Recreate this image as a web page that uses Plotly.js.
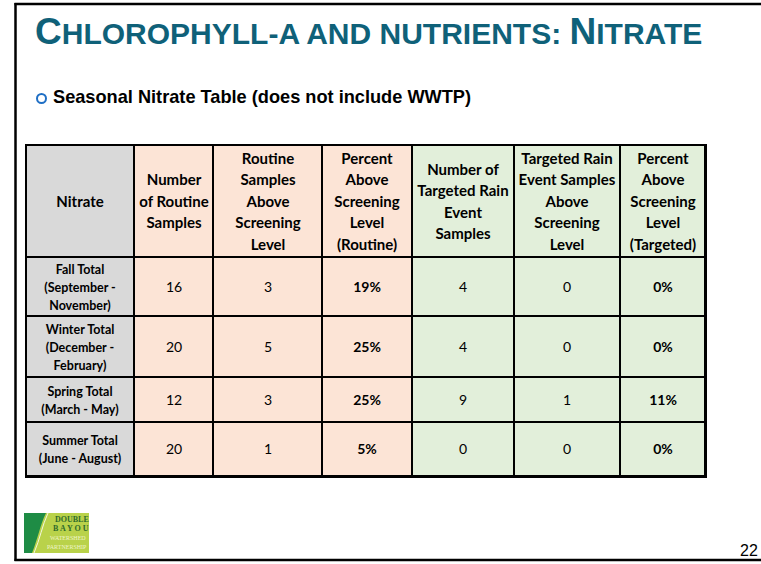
<!DOCTYPE html>
<html><head><meta charset="utf-8">
<script src="https://cdn.plot.ly/plotly-3.0.1.min.js"></script>
<style>html,body{margin:0;padding:0;background:#fff;}#chart{width:761px;height:564px;}</style>
</head><body><div id="chart"></div>
<script>
// ---- data ----
const headerLabels = [
  "Nitrate",
  "Number<br>of Routine<br>Samples",
  "Routine<br>Samples<br>Above<br>Screening<br>Level",
  "Percent<br>Above<br>Screening<br>Level<br>(Routine)",
  "Number of<br>Targeted Rain<br>Event<br>Samples",
  "Targeted Rain<br>Event Samples<br>Above<br>Screening<br>Level",
  "Percent<br>Above<br>Screening<br>Level<br>(Targeted)"
];
const seasons = [
  "Fall Total<br>(September -<br>November)",
  "Winter Total<br>(December -<br>February)",
  "Spring Total<br>(March - May)",
  "Summer Total<br>(June - August)"
];
const routineSamples  = [16, 20, 12, 20];
const routineAbove    = [3, 5, 3, 1];
const routinePercent  = [19, 25, 25, 5];
const targetedSamples = [4, 4, 9, 0];
const targetedAbove   = [0, 0, 1, 0];
const targetedPercent = [0, 0, 11, 0];
const columnGroup = [0, 1, 1, 1, 2, 2, 2];   // 0 = label, 1 = routine, 2 = targeted rain event

// ---- layout constants (sizes, not data) ----
const W = 761, H = 564;
const px = x => x / W, py = y => 1 - y / H;
const colWidths = [108, 79, 109, 90, 102, 106, 85];
const headerHeight = 112;
const rowHeights = [59, 61, 45, 54];
const cum = (start, arr) => arr.reduce((a, v) => (a.push(a[a.length - 1] + v), a), [start]);
const xEdges = cum(0, colWidths);
const yEdgesBody = cum(headerHeight, rowHeights);
const tableW = xEdges[xEdges.length - 1];
const tableH = yEdgesBody[yEdgesBody.length - 1];

// ---- text building ----
const styled = (s, size, bold) => s.split("<br>").map(l => {
  const t = "<span style='font-size:" + size + "px'>" + l + "</span>";
  return bold ? "<b>" + t + "</b>" : t;
}).join("<br>");

const headerText = [headerLabels.map(s => styled(s, 15, true))];
const bodyColumns = [
  seasons.map(s => styled(s, 12.5, true)),
  routineSamples.map(v => styled(String(v), 14, false)),
  routineAbove.map(v => styled(String(v), 14, false)),
  routinePercent.map(v => styled(v + "%", 14, true)),
  targetedSamples.map(v => styled(String(v), 14, false)),
  targetedAbove.map(v => styled(String(v), 14, false)),
  targetedPercent.map(v => styled(v + "%", 14, true))
];
const bodyText = seasons.map((_, r) => bodyColumns.map(col => col[r]));
const headerZ = [columnGroup.slice()];
const bodyZ = seasons.map(() => columnGroup.slice());

const gray = "#D9D9D9", peach = "#FCE4D6", green = "#E2EFDA";
const groupScale = [[0, gray], [0.5, peach], [1, green]];

const common = {
  type: "heatmap", x: xEdges, zmin: 0, zmax: 2, colorscale: groupScale,
  showscale: false, xgap: 2, ygap: 2, hoverinfo: "skip",
  texttemplate: "%{text}"
};
const headerTrace = Object.assign({}, common, {
  y: [0, headerHeight], z: headerZ, text: headerText,
  textfont: {family: "Lato, sans-serif", size: 16.5, color: "#000"}
});
const bodyTrace = Object.assign({}, common, {
  y: yEdgesBody, z: bodyZ, text: bodyText,
  textfont: {family: "Lato, sans-serif", size: 14.2, color: "#000"}
});

const shapes = [
  // slide frame
  {type: "line", xref: "paper", yref: "paper", x0: px(14.5), x1: 1, y0: py(4), y1: py(4), line: {color: "#000", width: 2.5}},
  {type: "line", xref: "paper", yref: "paper", x0: px(15.5), x1: px(15.5), y0: py(3), y1: py(561), line: {color: "#000", width: 2.5}},
  {type: "line", xref: "paper", yref: "paper", x0: px(14.5), x1: 1, y0: py(560), y1: py(560), line: {color: "#000", width: 2.5}},
  // bullet
  {type: "circle", xref: "paper", yref: "paper", x0: px(37), x1: px(46), y0: py(103), y1: py(94), line: {color: "#1F6FC5", width: 2}},
  // logo
  {type: "rect", xref: "paper", yref: "paper", x0: px(24), x1: px(89), y0: py(553), y1: py(513), fillcolor: "#B9D24A", line: {width: 0}},
  {type: "path", xref: "paper", yref: "paper",
   path: `M ${px(24)},${py(513)} L ${px(46)},${py(513)} C ${px(40)},${py(525)} ${px(38)},${py(538)} ${px(32)},${py(553)} L ${px(24)},${py(553)} Z`,
   fillcolor: "#1E8C45", line: {width: 0}},
  {type: "path", xref: "paper", yref: "paper",
   path: `M ${px(48)},${py(513)} C ${px(42)},${py(526)} ${px(40)},${py(539)} ${px(34)},${py(553)}`,
   line: {color: "#F4F8E0", width: 1}}
];

const annotations = [
  {xref: "paper", yref: "paper", x: px(33), y: py(54), xanchor: "left", yanchor: "bottom", showarrow: false,
   text: "<b>C<span style='font-size:30px'>HLOROPHYLL-A AND NUTRIENTS: </span>N<span style='font-size:30px'>ITRATE</span></b>",
   font: {family: "Liberation Sans, Arial, sans-serif", size: 37, color: "#0F6179"}},
  {xref: "paper", yref: "paper", x: px(51), y: py(109), xanchor: "left", yanchor: "bottom", showarrow: false,
   text: "<b>Seasonal Nitrate Table (does not include WWTP)</b>",
   font: {family: "Liberation Sans, Arial, sans-serif", size: 18.2, color: "#000"}},
  {xref: "paper", yref: "paper", x: px(760), y: py(561), xanchor: "right", yanchor: "bottom", showarrow: false,
   text: "22", font: {family: "Liberation Sans, Arial, sans-serif", size: 16, color: "#000"}},
  // logo text
  {xref: "paper", yref: "paper", x: px(72), y: py(519), xanchor: "center", yanchor: "middle", showarrow: false,
   text: "<b>DOUBLE</b>", font: {family: "Liberation Serif, serif", size: 8, color: "#2E6B2C"}},
  {xref: "paper", yref: "paper", x: px(71), y: py(528), xanchor: "center", yanchor: "middle", showarrow: false,
   text: "<b>B A Y O U</b>", font: {family: "Liberation Serif, serif", size: 8, color: "#2E6B2C"}},
  {xref: "paper", yref: "paper", x: px(68), y: py(538), xanchor: "center", yanchor: "middle", showarrow: false,
   text: "WATERSHED", font: {family: "Liberation Serif, serif", size: 6, color: "#EEF4C8"}},
  {xref: "paper", yref: "paper", x: px(67), y: py(547), xanchor: "center", yanchor: "middle", showarrow: false,
   text: "PARTNERSHIP", font: {family: "Liberation Serif, serif", size: 6, color: "#EEF4C8"}}
];

const axisCommon = {
  showgrid: false, zeroline: false, showticklabels: false, ticks: "",
  showline: true, mirror: true, linecolor: "#000", linewidth: 1.5, fixedrange: true
};
const layout = {
  width: W, height: H,
  margin: {l: 0, r: 0, t: 0, b: 0},
  paper_bgcolor: "#fff", plot_bgcolor: "#000",
  showlegend: false,
  xaxis: Object.assign({}, axisCommon, {domain: [px(26), px(705)], range: [0, tableW]}),
  yaxis: Object.assign({}, axisCommon, {domain: [py(476), py(145)], range: [tableH, 0]}),
  shapes: shapes,
  annotations: annotations
};

Plotly.newPlot("chart", [headerTrace, bodyTrace], layout, {displayModeBar: false, staticPlot: true});
</script>
</body></html>
